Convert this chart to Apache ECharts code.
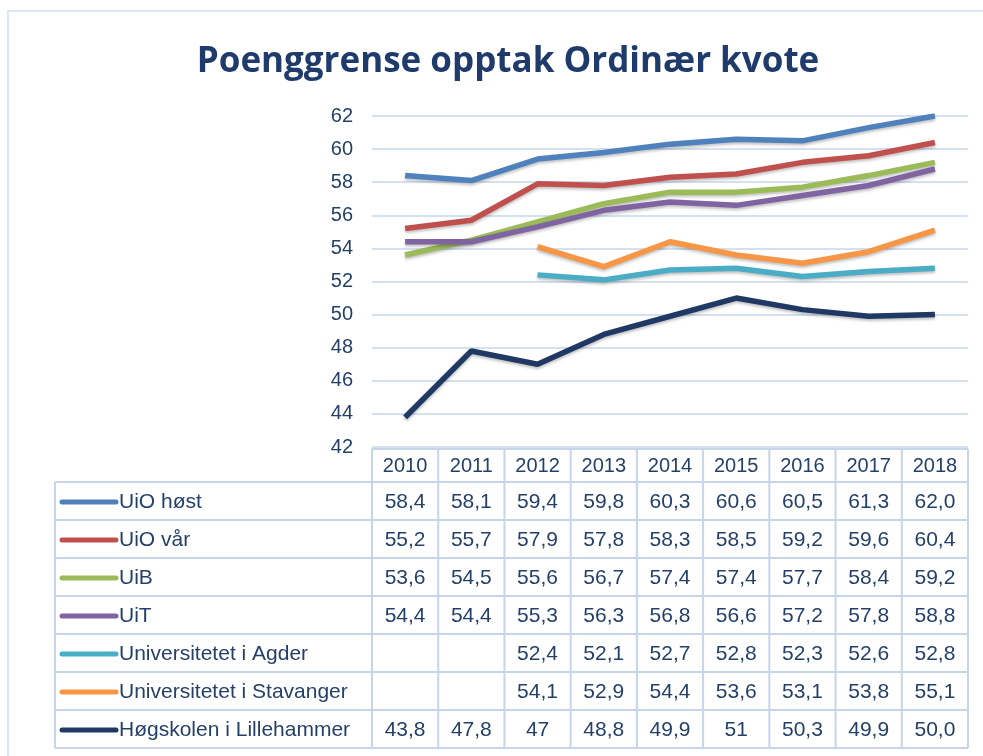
<!DOCTYPE html>
<html>
<head>
<meta charset="utf-8">
<script src="https://cdn.jsdelivr.net/npm/echarts@6/dist/echarts.min.js"></script>
<style>
  html, body { margin: 0; padding: 0; background: #fff; }
  #main { width: 983px; height: 756px; }
</style>
</head>
<body>
<div id="main"></div>
<script>
var years = ['2010', '2011', '2012', '2013', '2014', '2015', '2016', '2017', '2018'];
var yTicks = { min: 42, max: 62, step: 2 };

var uioHost = [58.4, 58.1, 59.4, 59.8, 60.3, 60.6, 60.5, 61.3, 62.0];
var uioVar = [55.2, 55.7, 57.9, 57.8, 58.3, 58.5, 59.2, 59.6, 60.4];
var uib = [53.6, 54.5, 55.6, 56.7, 57.4, 57.4, 57.7, 58.4, 59.2];
var uit = [54.4, 54.4, 55.3, 56.3, 56.8, 56.6, 57.2, 57.8, 58.8];
var agder = [null, null, 52.4, 52.1, 52.7, 52.8, 52.3, 52.6, 52.8];
var stavanger = [null, null, 54.1, 52.9, 54.4, 53.6, 53.1, 53.8, 55.1];
var lillehammer = [43.8, 47.8, 47, 48.8, 49.9, 51, 50.3, 49.9, 50.0];

// cells that the source table shows without a decimal
var plainCells = [[6, 2], [6, 5]];

var seriesNames = ['UiO høst', 'UiO vår', 'UiB', 'UiT', 'Universitetet i Agder', 'Universitetet i Stavanger', 'Høgskolen i Lillehammer'];
var seriesData = [uioHost, uioVar, uib, uit, agder, stavanger, lillehammer];
var colors = ['#4F81BD', '#C0504D', '#9BBB59', '#8064A2', '#4BACC6', '#F79646', '#1F3864'];

var font = 'Liberation Sans Narrow, Liberation Sans, sans-serif';
var textColor = '#243F68';
var lineColor = '#D5E1F1';

var chart = echarts.init(document.getElementById('main'));

var gridLeft = 372, gridRight = 15, gridTop = 116, gridBottom = 309;

var option = {
  animation: false,
  title: {
    text: 'Poenggrense opptak Ordinær kvote',
    left: 503,
    textAlign: 'center',
    top: 40,
    textStyle: { fontFamily: 'Open Sans, sans-serif', fontWeight: 'bold', fontSize: 35, color: '#1F3B6B' }
  },
  grid: { left: gridLeft, right: gridRight, top: gridTop, bottom: gridBottom },
  xAxis: {
    type: 'category',
    data: years,
    boundaryGap: true,
    axisLine: { show: false },
    axisTick: { show: false },
    axisLabel: { show: false }
  },
  yAxis: {
    type: 'value',
    min: yTicks.min,
    max: yTicks.max,
    interval: yTicks.step,
    axisLine: { show: false },
    axisTick: { show: false },
    axisLabel: { fontFamily: font, fontSize: 20, color: textColor, margin: 19 },
    splitLine: { lineStyle: { color: lineColor, width: 2 } }
  },
  series: seriesData.map(function (d, i) {
    return {
      name: seriesNames[i],
      type: 'line',
      data: d,
      symbol: 'none',
      connectNulls: false,
      lineStyle: {
        color: colors[i], width: 5.5,
        shadowColor: 'rgba(0,0,0,0.25)', shadowBlur: 3, shadowOffsetY: 2
      },
      itemStyle: { color: colors[i] }
    };
  })
};
chart.setOption(option);

function cellText(row, col, v) {
  if (v === null) return '';
  var plain = plainCells.some(function (c) { return c[0] === row && c[1] === col; });
  return (plain ? String(v) : v.toFixed(1)).replace('.', ',');
}

function buildTable() {
  var els = [];
  var band = chart.convertToPixel({ xAxisIndex: 0 }, years[1]) - chart.convertToPixel({ xAxisIndex: 0 }, years[0]);
  var x0 = chart.convertToPixel({ xAxisIndex: 0 }, years[0]) - band / 2;
  var xEnd = x0 + band * years.length;
  var top = 449, headH = 33, rowH = 38, left = 55;
  var bottom = top + headH + rowH * seriesNames.length;
  var border = { stroke: '#C6D5EA', lineWidth: 2 };

  // outer frame of the chart
  els.push({ type: 'polyline', shape: { points: [[8, 760], [8, 11], [990, 11]] }, style: { stroke: '#DCE6F4', lineWidth: 2, fill: null } });

  // horizontal lines
  els.push({ type: 'line', shape: { x1: x0, y1: top, x2: xEnd, y2: top }, style: border });
  for (var r = 0; r <= seriesNames.length; r++) {
    var y = top + headH + rowH * r;
    els.push({ type: 'line', shape: { x1: left, y1: y, x2: xEnd, y2: y }, style: border });
  }
  // vertical lines
  els.push({ type: 'line', shape: { x1: left, y1: top + headH, x2: left, y2: bottom }, style: border });
  for (var c = 0; c <= years.length; c++) {
    var x = x0 + band * c;
    els.push({ type: 'line', shape: { x1: x, y1: top, x2: x, y2: bottom }, style: border });
  }
  // header
  years.forEach(function (yr, c) {
    els.push({ type: 'text', x: x0 + band * c + band / 2, y: top + headH / 2 + 1,
      style: { text: yr, fontFamily: font, fontSize: 20, fill: textColor, align: 'center', verticalAlign: 'middle' } });
  });
  // rows
  seriesNames.forEach(function (name, r) {
    var cy = top + headH + rowH * r + rowH / 2 + 1;
    els.push({ type: 'line', shape: { x1: 62, y1: cy, x2: 116, y2: cy },
      style: { stroke: colors[r], lineWidth: 5, lineCap: 'round' } });
    els.push({ type: 'text', x: 119, y: cy,
      style: { text: name, fontFamily: font, fontSize: 21, fill: textColor, align: 'left', verticalAlign: 'middle' } });
    seriesData[r].forEach(function (v, c) {
      els.push({ type: 'text', x: x0 + band * c + band / 2, y: cy,
        style: { text: cellText(r, c, v), fontFamily: font, fontSize: 21, fill: textColor, align: 'center', verticalAlign: 'middle' } });
    });
  });
  chart.setOption({ graphic: els });
}
buildTable();
</script>
</body>
</html>
